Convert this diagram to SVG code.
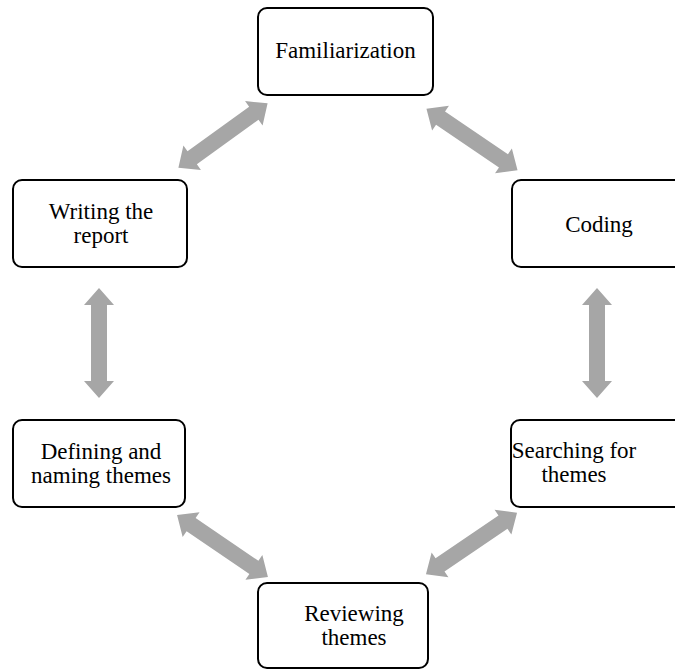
<svg xmlns="http://www.w3.org/2000/svg" width="675" height="670" viewBox="0 0 675 670">
<style>
.box{fill:#fff;stroke:#000;stroke-width:2}
.t{font-family:"Liberation Serif","Times New Roman",serif;font-size:23px;fill:#000;text-anchor:middle}
.arr{fill:#A6A6A6}
</style>
<defs>
<polygon id="dbl" points="-55,0 -38,-15 -38,-8 38,-8 38,-15 55,0 38,15 38,8 -38,8 -38,15"/>
</defs>
<rect width="675" height="670" fill="#fff"/>
<g id="connectors" class="arr">
<use href="#dbl" transform="translate(223,135.5) rotate(-35.8)"/>
<use href="#dbl" transform="translate(472,139.5) rotate(34.1)"/>
<use href="#dbl" transform="translate(597,343) rotate(90)"/>
<use href="#dbl" transform="translate(99,343) rotate(90)"/>
<use href="#dbl" transform="translate(222.5,546) rotate(34.3)"/>
<use href="#dbl" transform="translate(471.5,543.5) rotate(-34.1)"/>
</g>
<g id="familiarization">
<rect class="box" x="258" y="8" width="175" height="87" rx="9"/>
<text class="t" x="345.5" y="58">Familiarization</text>
</g>
<g id="coding">
<rect class="box" x="512" y="180" width="174" height="87" rx="9"/>
<text class="t" x="599" y="232">Coding</text>
</g>
<g id="searching">
<rect class="box" x="511" y="420" width="175" height="87" rx="9"/>
<text class="t" x="574" y="458">Searching for</text>
<text class="t" x="574" y="482">themes</text>
</g>
<g id="reviewing">
<rect class="box" x="258" y="583" width="170" height="85" rx="9"/>
<text class="t" x="354" y="621">Reviewing</text>
<text class="t" x="354" y="645">themes</text>
</g>
<g id="defining">
<rect class="box" x="13" y="420" width="172" height="87" rx="9"/>
<text class="t" x="101" y="459">Defining and</text>
<text class="t" x="101" y="483">naming themes</text>
</g>
<g id="writing">
<rect class="box" x="13" y="180" width="174" height="87" rx="9"/>
<text class="t" x="101" y="219">Writing the</text>
<text class="t" x="101" y="243">report</text>
</g>
</svg>
